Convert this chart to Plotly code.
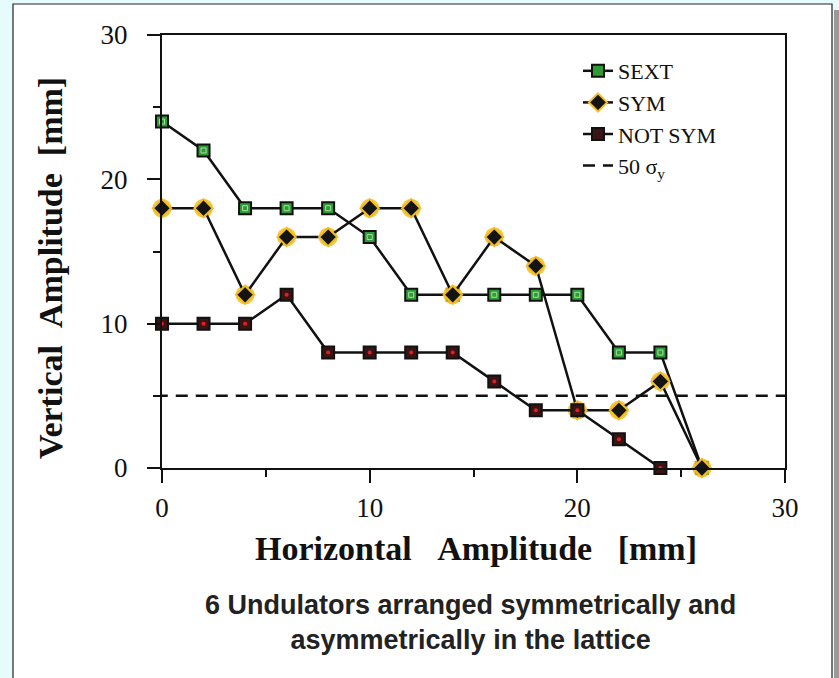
import plotly.graph_objects as go

# Horizontal amplitude grid [mm]
h_amp = [0, 2, 4, 6, 8, 10, 12, 14, 16, 18, 20, 22, 24, 26]

# Vertical dynamic aperture [mm] for each configuration
sext = [24, 22, 18, 18, 18, 16, 12, 12, 12, 12, 12, 8, 8, 0]
sym = [18, 18, 12, 16, 16, 18, 18, 12, 16, 14, 4, 4, 6, 0]
not_sym_x = [0, 2, 4, 6, 8, 10, 12, 14, 16, 18, 20, 22, 24]
not_sym = [10, 10, 10, 12, 8, 8, 8, 8, 6, 4, 4, 2, 0]

# 50 sigma_y reference level [mm]
sigma_level = 5
sigma_x = [-0.3, 30]

x_ticks = [0, 10, 20, 30]
y_ticks = [0, 10, 20, 30]

W, H = 839, 678
L, R, T, B = 162, 54, 35, 210
PW, PH = W - L - R, H - T - B


def px(x):
    return (x - L) / PW


def py(y):
    return (H - B - y) / PH


serif = "Liberation Serif, Times New Roman, serif"
line_col = "#111111"
NB = "\u00a0"

fig = go.Figure()

fig.add_trace(go.Scatter(
    x=h_amp, y=sext, name="SEXT", mode="lines+markers",
    line=dict(color=line_col, width=2.5),
    marker=dict(symbol="square", size=12, color="#2e9b35",
                line=dict(color="#111111", width=2)),
    cliponaxis=False,
))
fig.add_trace(go.Scatter(
    x=h_amp, y=sext, mode="markers", showlegend=False, hoverinfo="skip",
    marker=dict(symbol="square-open", size=5, color="#a8e0a0",
                line=dict(width=1)),
    cliponaxis=False,
))

fig.add_trace(go.Scatter(
    x=h_amp, y=sym, mode="markers", showlegend=False, hoverinfo="skip",
    marker=dict(symbol="circle", size=19, color="rgba(245,190,30,0.85)"),
    cliponaxis=False,
))
fig.add_trace(go.Scatter(
    x=h_amp, y=sym, name="SYM", mode="lines+markers",
    line=dict(color=line_col, width=2.5),
    marker=dict(symbol="diamond", size=14, color="#141414",
                line=dict(color="#f2bd24", width=2)),
    cliponaxis=False,
))

fig.add_trace(go.Scatter(
    x=not_sym_x, y=not_sym, name="NOT SYM", mode="lines+markers",
    line=dict(color=line_col, width=2.5),
    marker=dict(symbol="square", size=12, color="#3a1414",
                line=dict(color="#111111", width=2)),
    cliponaxis=False,
))
fig.add_trace(go.Scatter(
    x=not_sym_x, y=not_sym, mode="markers", showlegend=False, hoverinfo="skip",
    marker=dict(symbol="circle", size=4, color="#e02020"),
    cliponaxis=False,
))

fig.add_trace(go.Scatter(
    x=sigma_x, y=[sigma_level, sigma_level], name="50 σ<sub>y</sub>",
    mode="lines", line=dict(color="#111111", width=2.5, dash="12px,8px"),
    cliponaxis=False,
))

# Page panel: white card with border and drop shadow on a pale cyan page
fig.add_shape(type="rect", xref="paper", yref="paper", layer="below",
              x0=px(834), x1=px(842), y0=py(700), y1=py(10),
              fillcolor="#9a9a9a", line=dict(width=0))
fig.add_shape(type="rect", xref="paper", yref="paper", layer="below",
              x0=px(13), x1=px(832), y0=py(700), y1=py(4),
              fillcolor="white", line=dict(color="#222222", width=1.2))

axis_common = dict(
    showline=True, linecolor="#111111", linewidth=2, mirror=True,
    showgrid=False, zeroline=False, ticks="outside", ticklen=13,
    tickwidth=2, tickcolor="#111111",
    tickfont=dict(family=serif, size=27, color="#111111"),
    minor=dict(ticks="outside", ticklen=7, tickwidth=2,
               tickcolor="#111111", dtick=5),
)

fig.update_xaxes(range=[0, 30], tickvals=x_ticks, ticklabelstandoff=2,
                 **axis_common)
fig.update_yaxes(range=[0, 30], tickvals=y_ticks, ticklabelstandoff=14,
                 **axis_common)

title_font = dict(family=serif, size=34, color="#111111")
fig.add_annotation(
    xref="paper", yref="paper", x=px(476), y=py(548),
    text=f"<b>Horizontal{NB*3}Amplitude{NB*3}[mm]</b>",
    showarrow=False, xanchor="center", yanchor="middle", font=title_font,
)
fig.add_annotation(
    xref="paper", yref="paper", x=px(50), y=py(268),
    text=f"<b>Vertical{NB*2}Amplitude{NB*2}[mm]</b>", textangle=-90,
    showarrow=False, xanchor="center", yanchor="middle", font=title_font,
)

fig.add_annotation(
    xref="paper", yref="paper", x=px(470), y=py(622),
    text="<b>6 Undulators arranged symmetrically and<br>asymmetrically in the lattice</b>",
    showarrow=False, xanchor="center", yanchor="middle",
    font=dict(family="Liberation Sans, Arial, sans-serif", size=27,
              color="#222222"),
    align="center",
)

fig.update_layout(
    width=W, height=H,
    margin=dict(l=L, r=R, t=T, b=B),
    paper_bgcolor="#e6fcfc",
    plot_bgcolor="rgba(0,0,0,0)",
    showlegend=True,
    legend=dict(x=px(578), y=py(50), xanchor="left", yanchor="top",
                bgcolor="rgba(0,0,0,0)",
                font=dict(family=serif, size=22, color="#111111"),
                itemwidth=30, tracegroupgap=0),
)

fig.write_html("out.html")
